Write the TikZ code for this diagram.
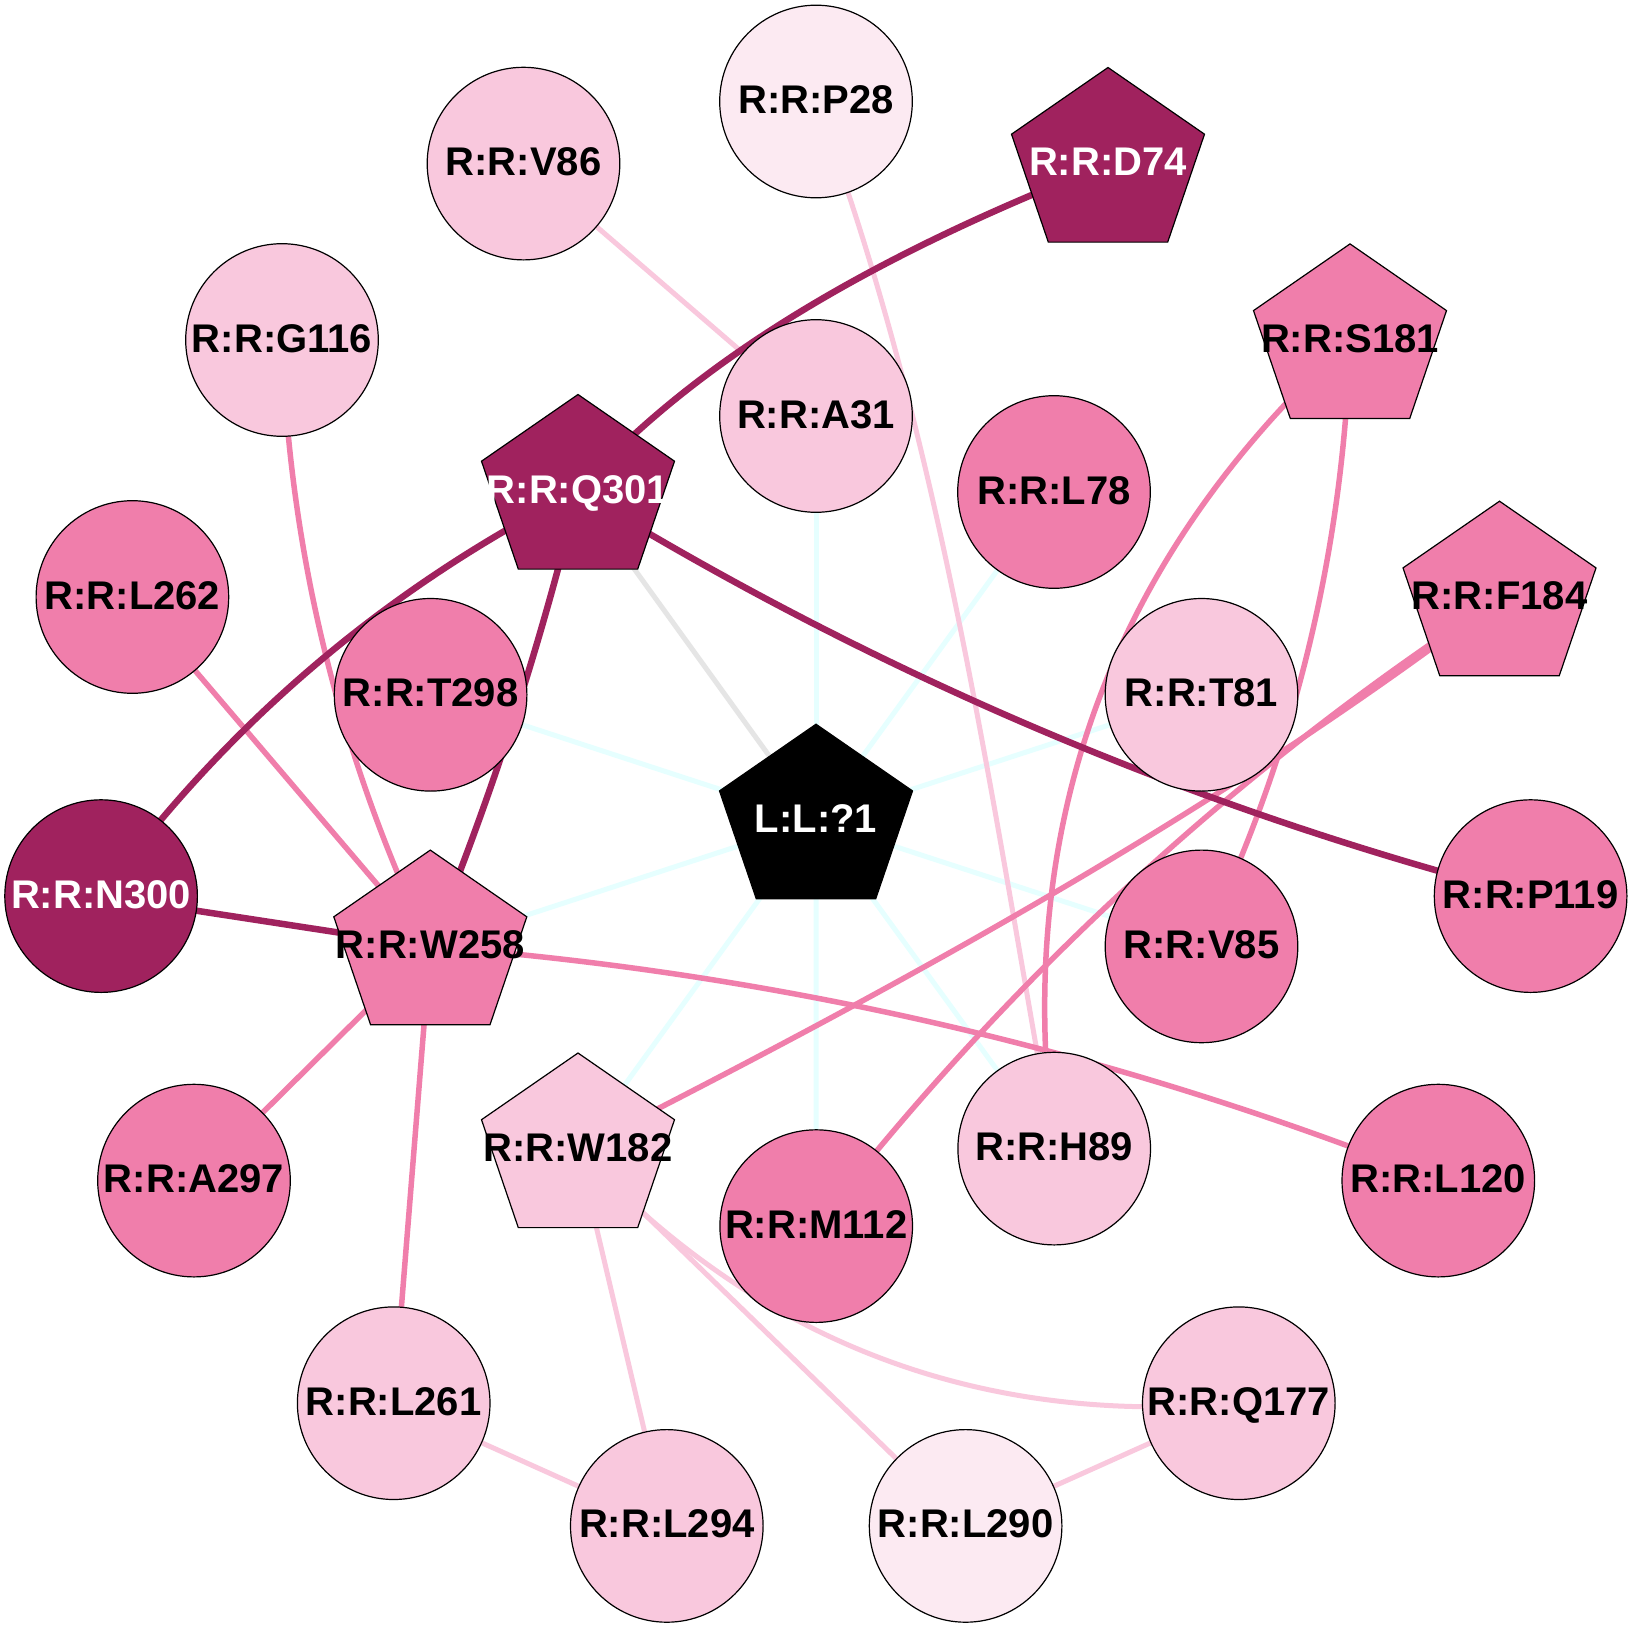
\documentclass[tikz,border=0pt]{standalone}
\usepackage{fontspec}
\setmainfont{Liberation Sans}
\usetikzlibrary{backgrounds}
\definecolor{cdark}{HTML}{A0225E}
\definecolor{cmed}{HTML}{F07EAB}
\definecolor{clight}{HTML}{F9C8DD}
\definecolor{cvlight}{HTML}{FCEAF2}
\definecolor{ccyan}{HTML}{E6FFFF}
\definecolor{cgrey}{HTML}{E5E5E5}
\tikzset{
  txt/.style={inner sep=0pt, font=\fontsize{40}{48}\selectfont\bfseries, text height=31pt, text depth=7pt},
  res/.style={txt, circle, draw=black, line width=1.2pt, minimum size=192.6pt},
  pentline/.style={draw=black, line width=1.2pt},
  edark/.style={draw=cdark, line width=6.5pt},
  emed/.style={draw=cmed, line width=5.5pt},
  elight/.style={draw=clight, line width=5pt},
  ecyan/.style={draw=ccyan, line width=5pt},
  egrey/.style={draw=cgrey, line width=5pt},
}
\newcommand\pentnode[6]{%
  \path[pentline, fill=#4, shift={(#2,#3)}] (0,-96.5) -- (96.5,-29.8) -- (59.7,78.1) -- (-59.7,78.1) -- (-96.5,-29.8) -- cycle;
  \node[txt, text=#5] (#1) at (#2,#3) {#6};
}
\begin{document}
\begin{tikzpicture}[x=1pt,y=-1pt]
\useasboundingbox (0,0) rectangle (1632,1624);
% circle nodes
\node[res, fill=cvlight] (p28) at (816,101.5) {R:R:P28};
\node[res, fill=clight] (v86) at (523.5,163.6) {R:R:V86};
\node[res, fill=clight] (g116) at (282,340) {R:R:G116};
\node[res, fill=clight] (a31) at (816,416) {R:R:A31};
\node[res, fill=cmed] (l78) at (1054,492) {R:R:L78};
\node[res, fill=cmed] (l262) at (132.4,597) {R:R:L262};
\node[res, fill=cmed] (t298) at (430.6,694.8) {R:R:T298};
\node[res, fill=clight] (t81) at (1201.5,694.8) {R:R:T81};
\node[res, fill=cdark, text=white] (n300) at (101.1,896.1) {R:R:N300};
\node[res, fill=cmed] (p119) at (1530.6,896.1) {R:R:P119};
\node[res, fill=cmed] (v85) at (1201.5,946.4) {R:R:V85};
\node[res, fill=clight] (h89) at (1054.2,1148.6) {R:R:H89};
\node[res, fill=cmed] (l120) at (1438.3,1180.6) {R:R:L120};
\node[res, fill=cmed] (a297) at (194,1180.6) {R:R:A297};
\node[res, fill=cmed] (m112) at (816.2,1226.1) {R:R:M112};
\node[res, fill=clight] (l261) at (393.7,1403.2) {R:R:L261};
\node[res, fill=clight] (q177) at (1238.8,1403.2) {R:R:Q177};
\node[res, fill=clight] (l294) at (666.8,1525.9) {R:R:L294};
\node[res, fill=cvlight] (l290) at (965.6,1525.9) {R:R:L290};
% pentagon nodes
\pentnode{d74}{1108}{164}{cdark}{white}{R:R:D74}
\pentnode{s181}{1350}{340.4}{cmed}{black}{R:R:S181}
\pentnode{q301}{578}{491}{cdark}{white}{R:R:Q301}
\pentnode{f184}{1499.5}{597.7}{cmed}{black}{R:R:F184}
\pentnode{lig}{816}{820.7}{black}{white}{L:L:?1}
\pentnode{w258}{430.3}{946.6}{cmed}{black}{R:R:W258}
\pentnode{w182}{578}{1149.5}{clight}{black}{R:R:W182}
% edges
\begin{pgfonlayer}{background}
\fill[white] (0,0) rectangle (1632,1624);
\foreach \n in {a31,l78,t81,v85,h89,m112,w182,w258,t298}
  \draw[ecyan] (lig.center) -- (\n.center);
\draw[egrey] (lig.center) -- (q301.center);
% light
\draw[elight] (v86.center) -- (a31.center);
\draw[elight] (p28.center) .. controls (942.3,439.9) and (990.5,796.1) .. (h89.center);
\draw[elight] (w182.center) -- (l294.center);
\draw[elight] (w182.center) -- (l290.center);
\draw[elight] (w182.center) .. controls (757.1,1341.5) and (977.3,1426) .. (q177.center);
\draw[elight] (l261.center) -- (l294.center);
\draw[elight] (q177.center) -- (l290.center);
% medium
\draw[emed] (g116.center) .. controls (289.6,552.5) and (339,754.7) .. (w258.center);
\draw[emed] (l262.center) -- (w258.center);
\draw[emed] (w258.center) -- (a297.center);
\draw[emed] (w258.center) -- (l261.center);
\draw[emed] (w258.center) .. controls (778.3,973) and (1114.3,1051) .. (l120.center);
\draw[emed] (s181.center) .. controls (1110.5,558.2) and (1011.9,827.6) .. (h89.center);
\draw[emed] (s181.center) .. controls (1343.2,552.9) and (1293.7,754.9) .. (v85.center);
\draw[emed] (f184.center) .. controls (1212.9,815.9) and (898.1,987.1) .. (w182.center);
\draw[emed] (f184.center) .. controls (1236.5,768.9) and (1008.8,978.3) .. (m112.center);
% dark
\draw[edark] (q301.center) .. controls (708.1,346.1) and (901.5,244.4) .. (d74.center);
\draw[edark] (q301.center) .. controls (386.6,587.9) and (227.6,722.9) .. (n300.center);
\draw[edark] (q301.center) .. controls (540.2,646.6) and (490.9,798.4) .. (w258.center);
\draw[edark] (q301.center) .. controls (875.2,673.8) and (1192.8,808.9) .. (p119.center);
\draw[edark] (n300.center) -- (w258.center);
\end{pgfonlayer}
\end{tikzpicture}
\end{document}
